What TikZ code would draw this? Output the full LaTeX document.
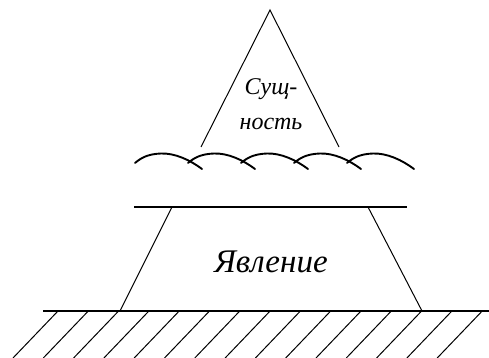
\documentclass[tikz,border=0pt]{standalone}
\usepackage{fontspec}
\setmainfont{Liberation Serif}
\newfontfamily\lserif{Liberation Serif}
\begin{document}
\begin{tikzpicture}[x=1pt,y=-1pt,
  thin line/.style={line width=1pt,black},
  mid line/.style={line width=1.4pt,black},
  wave line/.style={line width=1.9pt,black,line cap=round},
  label text/.style={font=\lserif\itshape\fontsize{24}{28}\selectfont,inner sep=0pt,anchor=base}]
\useasboundingbox (0,0) rectangle (489,358);
% triangle (essence)
\coordinate (apex) at (270,10);
\coordinate (tl) at (201,147);
\coordinate (tr) at (339,147);
\draw[thin line] (tl) -- (apex) -- (tr);
% waves
\foreach \x in {135,188,241,294,347}{
  \draw[wave line] (\x,163) .. controls (\x+7,157) and (\x+14,154) .. (\x+26,153.5)
     .. controls (\x+40,153) and (\x+55,160) .. (\x+67,169);
}
% top line of phenomenon
\coordinate (ls) at (134,207);
\coordinate (le) at (407,207);
\draw[mid line] (ls) -- (le);
% trapezoid sides
\coordinate (pl) at (172,207);
\coordinate (pr) at (368,207);
\coordinate (bl) at (120,311);
\coordinate (br) at (422,311);
\draw[thin line] (pl) -- (bl);
\draw[thin line] (pr) -- (br);
% ground
\coordinate (gs) at (43,311);
\coordinate (ge) at (489,311);
\draw[mid line] (gs) -- (ge);
\foreach \k in {0,...,14}{
  \draw[thin line] (58+30.3*\k,311) -- (13+30.3*\k,358);
}
% labels
\node[label text] (s1) at (271,95) {Сущ-};
\node[label text] (s2) at (271,130) {ность};
\node[label text,font=\lserif\itshape\fontsize{33}{37}\selectfont] (ph) at (271,272) {Явление};
\end{tikzpicture}
\end{document}
